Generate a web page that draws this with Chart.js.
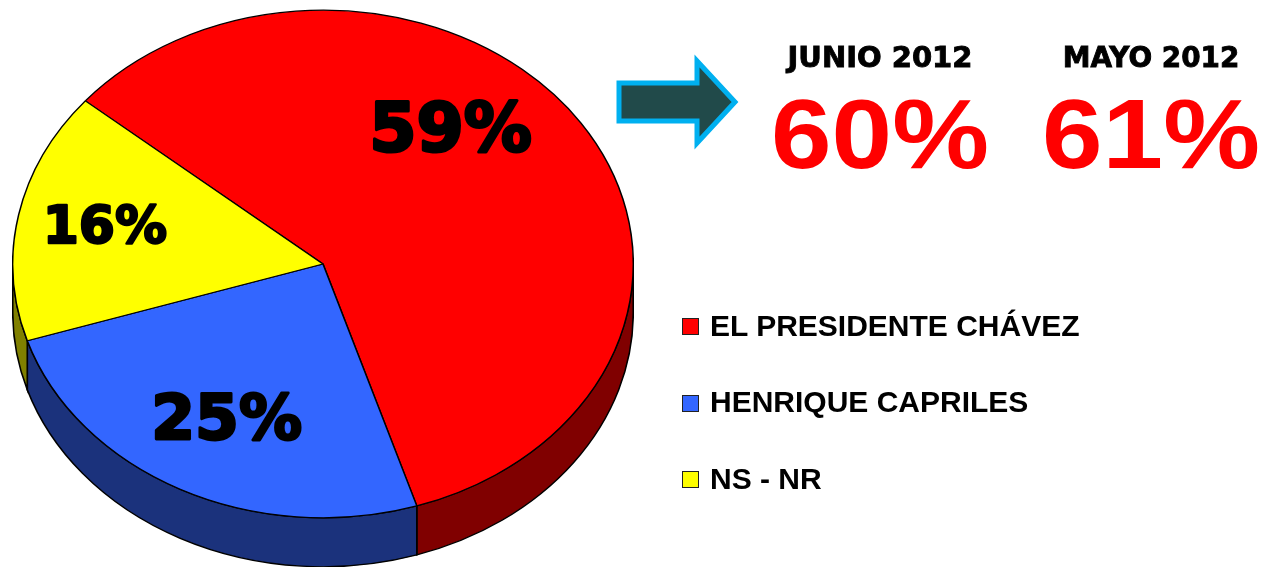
<!DOCTYPE html>
<html>
<head>
<meta charset="utf-8">
<script src="https://cdn.jsdelivr.net/npm/chart.js@4/dist/chart.umd.min.js"></script>
<style>
  html, body { margin: 0; padding: 0; background: #fff; width: 1265px; height: 567px; overflow: hidden; position: relative; }
  #pieWrap { position: absolute; left: 12px; top: -47px; width: 622px; height: 622px; }
  .t { position: absolute; white-space: nowrap; line-height: 1; transform-origin: center; }
  .hdr { font-family: "DejaVu Sans", sans-serif; font-weight: bold; font-size: 29px; color: #000; -webkit-text-stroke: 0.9px #000; }
  .big { font-family: "Liberation Sans", Arial, sans-serif; font-weight: bold; font-size: 99px; color: #ff0000; }
  .leg { position: absolute; font-family: "Liberation Sans", Arial, sans-serif; font-weight: bold; font-size: 30px; line-height: 1; color: #000; white-space: nowrap; }
  .sq { position: absolute; width: 15px; height: 15px; border: 1px solid #222; }
</style>
</head>
<body>
<div id="pieWrap"><canvas id="pie" width="622" height="622"></canvas></div>
<svg style="position:absolute;left:0;top:0" width="1265" height="567">
  <polygon points="619,83 697,83 697,61 735,102 697,143 697,121 619,121" fill="#214a4a" stroke="#00b0f0" stroke-width="5" stroke-linejoin="miter"/>
</svg>
<div id="right"></div>
<script>
// ---- data ----
const categories = ['EL PRESIDENTE CHÁVEZ', 'HENRIQUE CAPRILES', 'NS - NR'];
const values = [59, 25, 16];
const comparePeriods = ['JUNIO 2012', 'MAYO 2012'];
const compareValues = [60, 61];

// ---- styles ----
const topColors = ['#ff0000', '#3366ff', '#ffff00'];
const sideColors = ['#800000', '#1b327c', '#808000'];
const labelFontSizes = [68, 63, 52];
const labelRadius = [0.68, 0.675, 0.72];
const labelNudgeDeg = [-19, 0, 1.3];
const squash = 254 / 310.5;
const depth = 49;

const pie3d = {
  id: 'pie3d',
  beforeDatasetsDraw(chart) {
    const ctx = chart.ctx;
    const arcs = chart.getDatasetMeta(0).data;
    if (!arcs.length) return;
    const cx = arcs[0].x, cy = arcs[0].y;
    ctx.save();
    ctx.translate(cx, cy);
    ctx.scale(1, squash);
    ctx.translate(-cx, -cy);
    const d = depth / squash;
    const TWO = Math.PI * 2;
    arcs.forEach((a, i) => {
      const s = a.startAngle, e = a.endAngle, R = a.outerRadius;
      for (let k = -2; k <= 2; k++) {
        const lo = Math.max(s, k * TWO), hi = Math.min(e, k * TWO + Math.PI);
        if (hi > lo + 1e-6) {
          ctx.beginPath();
          ctx.arc(cx, cy, R, lo, hi);
          ctx.arc(cx, cy + d, R, hi, lo, true);
          ctx.closePath();
          ctx.fillStyle = sideColors[i];
          ctx.fill();
          ctx.lineWidth = 1.6;
          ctx.strokeStyle = '#000';
          ctx.stroke();
        }
      }
    });
  },
  afterDatasetsDraw(chart) {
    const ctx = chart.ctx;
    ctx.restore();
    const arcs = chart.getDatasetMeta(0).data;
    const total = values.reduce((p, c) => p + c, 0);
    arcs.forEach((a, i) => {
      const th = (a.startAngle + a.endAngle) / 2 + labelNudgeDeg[i] * Math.PI / 180;
      const r = a.outerRadius * labelRadius[i];
      const x = a.x + r * Math.cos(th);
      const y = a.y + squash * r * Math.sin(th);
      const fs = labelFontSizes[i];
      const txt = Math.round(values[i] / total * 100) + '%';
      ctx.save();
      ctx.font = 'bold ' + fs + 'px "DejaVu Sans"';
      ctx.fillStyle = '#000';
      ctx.strokeStyle = '#000';
      ctx.lineWidth = fs * 0.045;
      ctx.lineJoin = 'round';
      ctx.textAlign = 'center';
      ctx.textBaseline = 'alphabetic';
      ctx.fillText(txt, x, y + fs * 0.729 / 2);
      ctx.strokeText(txt, x, y + fs * 0.729 / 2);
      ctx.restore();
    });
  }
};

new Chart(document.getElementById('pie'), {
  type: 'pie',
  data: {
    labels: categories,
    datasets: [{
      data: values,
      backgroundColor: topColors,
      borderColor: '#000',
      borderWidth: 1.5
    }]
  },
  options: {
    responsive: false,
    animation: false,
    rotation: 310,
    layout: { padding: 0 },
    plugins: { legend: { display: false }, tooltip: { enabled: false } }
  },
  plugins: [pie3d]
});

// ---- right side text & legend ----
const right = document.getElementById('right');
const colCenters = [880, 1151];
comparePeriods.forEach((p, i) => {
  const h = document.createElement('div');
  h.className = 't hdr';
  h.textContent = p;
  h.style.left = colCenters[i] + 'px';
  h.style.top = (68 - 0.846 * 29) + 'px';
  h.style.transform = 'translateX(-50%)' + (i === 1 ? ' scaleX(0.96)' : '');
  right.appendChild(h);
  const b = document.createElement('div');
  b.className = 't big';
  b.textContent = compareValues[i] + '%';
  b.style.left = colCenters[i] + 'px';
  b.style.top = (168 - 0.8465 * 99) + 'px';
  b.style.transform = 'translateX(-50%) scaleX(1.1)';
  right.appendChild(b);
});
categories.forEach((c, i) => {
  const base = 336 + i * 76.5;
  const sq = document.createElement('div');
  sq.className = 'sq';
  sq.style.left = '682px';
  sq.style.top = (base - 18) + 'px';
  sq.style.background = topColors[i];
  right.appendChild(sq);
  const t = document.createElement('div');
  t.className = 'leg';
  t.textContent = c;
  t.style.left = '710px';
  t.style.top = (base - 0.8465 * 30) + 'px';
  right.appendChild(t);
});
</script>
</body>
</html>
